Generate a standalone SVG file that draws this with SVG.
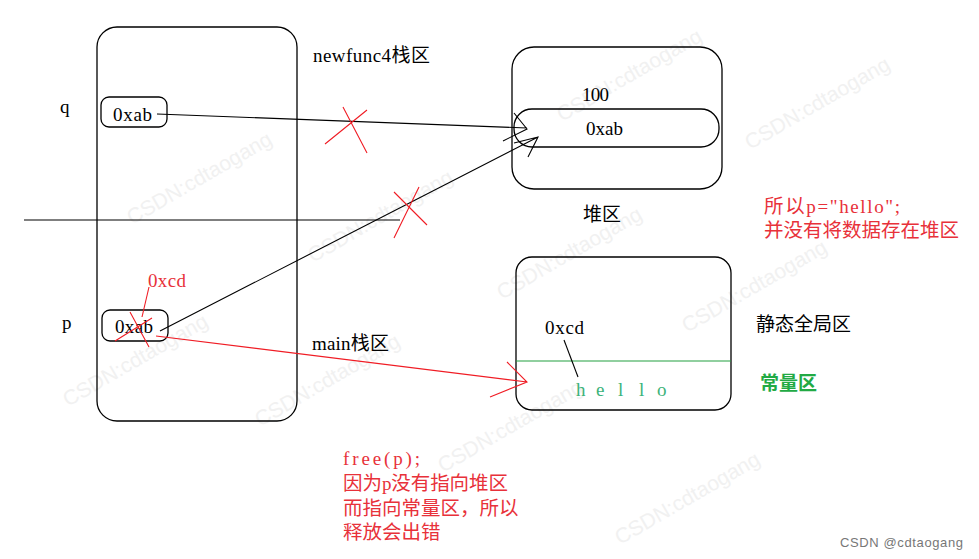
<svg xmlns="http://www.w3.org/2000/svg" width="979" height="559" viewBox="0 0 979 559">
<style>
.bg{fill:#ffffff}
.box{fill:none;stroke:#000;stroke-width:1.3}
.ln{fill:none;stroke:#000;stroke-width:1.1}
.rl{fill:none;stroke:#f01c24;stroke-width:1.1}
.gl{fill:none;stroke:#22a040;stroke-width:1.2}
.t{font-family:"Liberation Serif","Noto Sans CJK SC",serif;font-size:19px;fill:#000}
.c{font-family:"Noto Sans CJK SC",sans-serif;font-size:19px}
.c2{font-family:"Noto Sans CJK SC",sans-serif;font-size:19.5px}
.red{fill:#e8313a}
.wm{font-family:"Liberation Sans",sans-serif;font-size:21px;fill:#f1f1f1}
</style>
<rect class="bg" x="0" y="0" width="979" height="559"/>
<g id="watermarks">
<text class="wm" transform="translate(132,225) rotate(-30)">CSDN:cdtaogang</text>
<text class="wm" transform="translate(313,263) rotate(-30)">CSDN:cdtaogang</text>
<text class="wm" transform="translate(68,407) rotate(-30)">CSDN:cdtaogang</text>
<text class="wm" transform="translate(260,427) rotate(-30)">CSDN:cdtaogang</text>
<text class="wm" transform="translate(562,122) rotate(-30)">CSDN:cdtaogang</text>
<text class="wm" transform="translate(750,150) rotate(-30)">CSDN:cdtaogang</text>
<text class="wm" transform="translate(502,300) rotate(-30)">CSDN:cdtaogang</text>
<text class="wm" transform="translate(687,333) rotate(-30)">CSDN:cdtaogang</text>
<text class="wm" transform="translate(443,473) rotate(-30)">CSDN:cdtaogang</text>
<text class="wm" transform="translate(620,545) rotate(-30)">CSDN:cdtaogang</text>
</g>
<g id="main-stack">
<rect class="box" x="97" y="27" width="200" height="394" rx="20"/>
<text class="t" x="313" y="62" textLength="117">newfunc4<tspan class="c">栈区</tspan></text>
<text class="t" x="312" y="350" textLength="77">main<tspan class="c">栈区</tspan></text>
</g>
<g id="q-box">
<text class="t" x="60" y="113">q</text>
<rect class="box" x="101" y="97" width="66" height="30" rx="8"/>
<text class="t" x="113" y="121" textLength="39">0xab</text>
</g>
<g id="p-box">
<text class="t" x="62" y="329">p</text>
<rect class="box" x="102" y="310" width="66" height="31" rx="8"/>
<text class="t" x="115" y="333" textLength="38">0xab</text>
<text class="t red" x="148" y="287" textLength="38">0xcd</text>
</g>
<g id="heap">
<rect class="box" x="512" y="47" width="210" height="142" rx="22"/>
<rect class="box" x="514" y="109" width="205" height="38" rx="18" ry="18"/>
<text class="t" x="582" y="101" textLength="27">100</text>
<text class="t" x="586" y="135" textLength="37">0xab</text>
<text class="t" x="583" y="221"><tspan class="c">堆区</tspan></text>
</g>
<g id="static">
<rect class="box" x="516" y="257" width="215" height="153" rx="16"/>
<line class="gl" x1="516" y1="361" x2="731" y2="361"/>
<text class="t" x="545" y="334" textLength="39">0xcd</text>
<text class="t" x="576 596 618 639 657" y="396" style="fill:#3cb37a">hello</text>
<text class="t" x="756" y="331"><tspan class="c">静态全局区</tspan></text>
<text class="t" x="760" y="390"><tspan class="c" style="fill:#22aa44;font-weight:bold">常量区</tspan></text>
</g>
<g id="notes">
<text class="t red" x="764" y="213" textLength="136"><tspan class="c2">所以</tspan>p="hello";</text>
<text class="t red" x="764" y="237"><tspan class="c2">并没有将数据存在堆区</tspan></text>
<text class="t red" x="343" y="465" textLength="77">free(p);</text>
<text class="t red" x="343" y="490" textLength="165"><tspan class="c2">因为</tspan>p<tspan class="c2">没有指向堆区</tspan></text>
<text class="t red" x="343" y="515"><tspan class="c2">而指向常量区，所以</tspan></text>
<text class="t red" x="343" y="539"><tspan class="c2">释放会出错</tspan></text>
</g>
<g id="connectors">
<line class="ln" x1="24" y1="220" x2="400" y2="220"/>
<path class="ln" d="M157 114 L527 128 M514 113 L527 129 L503 141"/>
<path class="ln" d="M160 331 L538 137 M528 157 L538 137 L514 143"/>
<path class="rl" d="M156 336 L527 382 M507 362 L527 382 L490 397"/>
<path class="ln" d="M564 340 L578 377"/>
<path class="rl" d="M343 107 L367 153 M325 144 L367 110"/>
<path class="rl" d="M394 192 L427 225 M419 187 L394 238"/>
<path class="rl" d="M149 287 L142 317"/>
<path class="rl" d="M130 312 L149 347 M152 318 L115 341"/>
</g>
<text x="840" y="547" style="font-family:'Liberation Sans',sans-serif;font-size:13px;fill:#777" textLength="123">CSDN @cdtaogang</text>
</svg>
